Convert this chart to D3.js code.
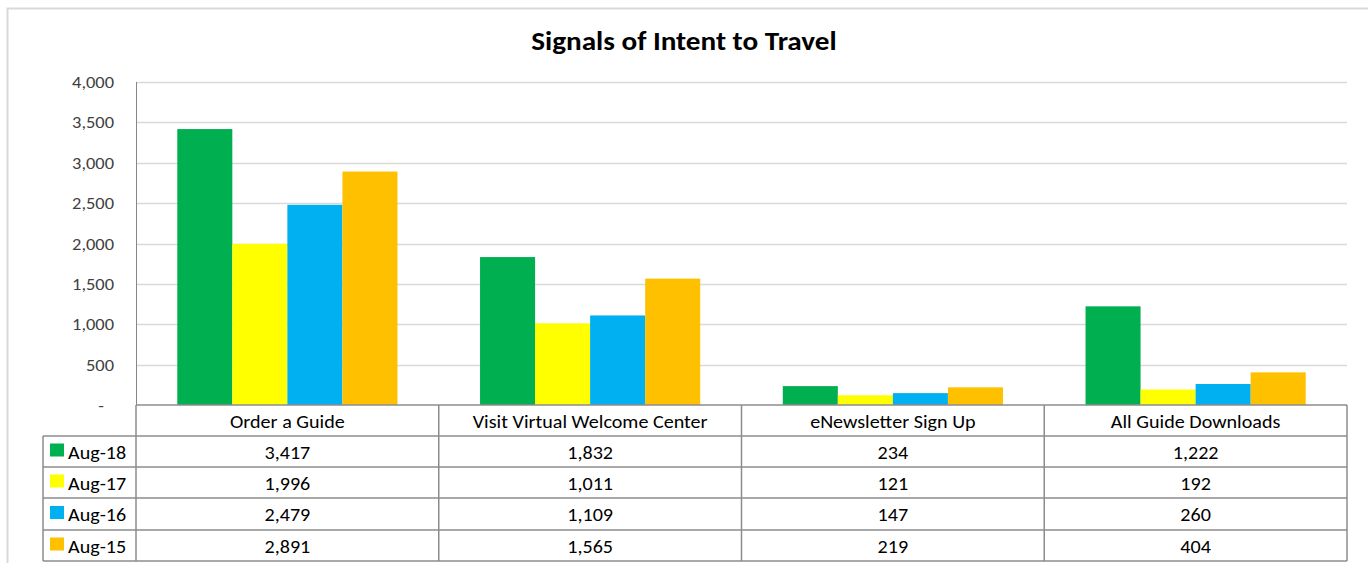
<!DOCTYPE html>
<html>
<head>
<meta charset="utf-8">
<script src="https://cdn.jsdelivr.net/npm/d3@7"></script>
<style>
  body { margin: 0; background: #fff; }
  text { font-family: Carlito, Lato, "Open Sans", sans-serif; }
</style>
</head>
<body>
<svg id="chart"></svg>
<script>
const categories = ['Order a Guide', 'Visit Virtual Welcome Center', 'eNewsletter Sign Up', 'All Guide Downloads'];
const seriesNames = ['Aug-18', 'Aug-17', 'Aug-16', 'Aug-15'];
const aug18 = [3417, 1832, 234, 1222];
const aug17 = [1996, 1011, 121, 192];
const aug16 = [2479, 1109, 147, 260];
const aug15 = [2891, 1565, 219, 404];
const yTicks = [0, 500, 1000, 1500, 2000, 2500, 3000, 3500, 4000];
const colors = ['#00B050', '#FFFF00', '#00B0F0', '#FFC000'];

const series = [aug18, aug17, aug16, aug15];

const W = 1368, H = 563;
const plot = {left: 136, right: 1347, top: 82, bottom: 405};
const legendLeft = 43;
const rowH = [405, 436, 467, 498, 530, 561];
const sx = 1.15; // text in the original is a bit wide

const svg = d3.select('#chart').attr('width', W).attr('height', H);

// place a text at (x,y), slightly stretched horizontally
const place = (x, y) => `translate(${x},${y}) scale(${sx},1)`;

// outer chart border
svg.append('path')
    .attr('d', `M7.5,${H} V8.5 H${W}`)
    .attr('fill', 'none')
    .attr('stroke', '#d9d9d9')
    .attr('stroke-width', 2);

svg.append('text')
    .attr('transform', `translate(684,50) scale(1.08,1)`)
    .attr('text-anchor', 'middle')
    .style('font-size', '27px')
    .style('font-weight', 'bold')
    .text('Signals of Intent to Travel');

const x = d3.scaleBand()
    .domain(categories)
    .range([plot.left, plot.right]);

const xInner = d3.scaleBand()
    .domain(seriesNames)
    .range([0, x.bandwidth()])
    .paddingOuter(0.75);

const y = d3.scaleLinear()
    .domain([0, 4000])
    .range([plot.bottom, plot.top]);

// gridlines
svg.append('g')
    .selectAll('line')
    .data(yTicks.slice(1))
    .join('line')
    .attr('x1', plot.left)
    .attr('x2', plot.right)
    .attr('y1', d => Math.round(y(d)) + 0.5)
    .attr('y2', d => Math.round(y(d)) + 0.5)
    .attr('stroke', '#d9d9d9')
    .attr('stroke-width', 1.3);

// y tick labels
svg.append('g')
    .selectAll('text')
    .data(yTicks)
    .join('text')
    .attr('transform', d => `translate(${d === 0 ? 104 : 114},${y(d) + 6}) scale(1.15,1)`)
    .attr('text-anchor', 'end')
    .attr('fill', '#404040')
    .style('font-size', '16px')
    .text(d => d === 0 ? '-' : d3.format(',')(d));

// bars
const groups = svg.append('g')
    .selectAll('g')
    .data(categories)
    .join('g')
    .attr('transform', d => `translate(${x(d)},0)`);

groups.selectAll('rect')
    .data((c, i) => seriesNames.map((s, j) => ({s, j, v: series[j][i]})))
    .join('rect')
    .attr('x', d => xInner(d.s))
    .attr('width', xInner.bandwidth())
    .attr('y', d => y(d.v))
    .attr('height', d => y(0) - y(d.v))
    .attr('fill', d => colors[d.j]);

// y axis line
svg.append('line')
    .attr('x1', plot.left + 0.5).attr('x2', plot.left + 0.5)
    .attr('y1', plot.top).attr('y2', plot.bottom)
    .attr('stroke', '#868686');

// data table
const table = svg.append('g').attr('stroke', '#8c8c8c').attr('stroke-width', 1.5);

// horizontal lines
table.append('line')
    .attr('x1', plot.left).attr('x2', plot.right)
    .attr('y1', rowH[0]).attr('y2', rowH[0]);
rowH.slice(1).forEach(yy => {
    table.append('line')
        .attr('x1', legendLeft).attr('x2', plot.right)
        .attr('y1', yy).attr('y2', yy);
});

// vertical lines
table.append('line')
    .attr('x1', legendLeft).attr('x2', legendLeft)
    .attr('y1', rowH[1]).attr('y2', rowH[5]);
categories.forEach(c => {
    table.append('line')
        .attr('x1', x(c)).attr('x2', x(c))
        .attr('y1', rowH[0]).attr('y2', rowH[5]);
});
table.append('line')
    .attr('x1', plot.right).attr('x2', plot.right)
    .attr('y1', rowH[0]).attr('y2', rowH[5]);

// header text
svg.append('g')
    .selectAll('text')
    .data(categories)
    .join('text')
    .attr('transform', d => place(x(d) + x.bandwidth() / 2, (rowH[0] + rowH[1]) / 2 + 7))
    .attr('text-anchor', 'middle')
    .style('font-size', '17.5px')
    .text(d => d);

// legend cells
const rows = svg.append('g')
    .selectAll('g')
    .data(seriesNames)
    .join('g')
    .attr('transform', (d, i) => `translate(0,${(rowH[i + 1] + rowH[i + 2]) / 2})`);

rows.append('rect')
    .attr('x', 50)
    .attr('y', -8)
    .attr('width', 14)
    .attr('height', 13)
    .attr('fill', (d, i) => colors[i]);

rows.append('text')
    .attr('transform', place(68, 7))
    .style('font-size', '17.5px')
    .text(d => d);

rows.selectAll('text.val')
    .data((s, j) => categories.map((c, i) => ({c, v: series[j][i]})))
    .join('text')
    .attr('class', 'val')
    .attr('transform', d => place(x(d.c) + x.bandwidth() / 2, 7))
    .attr('text-anchor', 'middle')
    .style('font-size', '17.5px')
    .text(d => d3.format(',')(d.v));
</script>
</body>
</html>
